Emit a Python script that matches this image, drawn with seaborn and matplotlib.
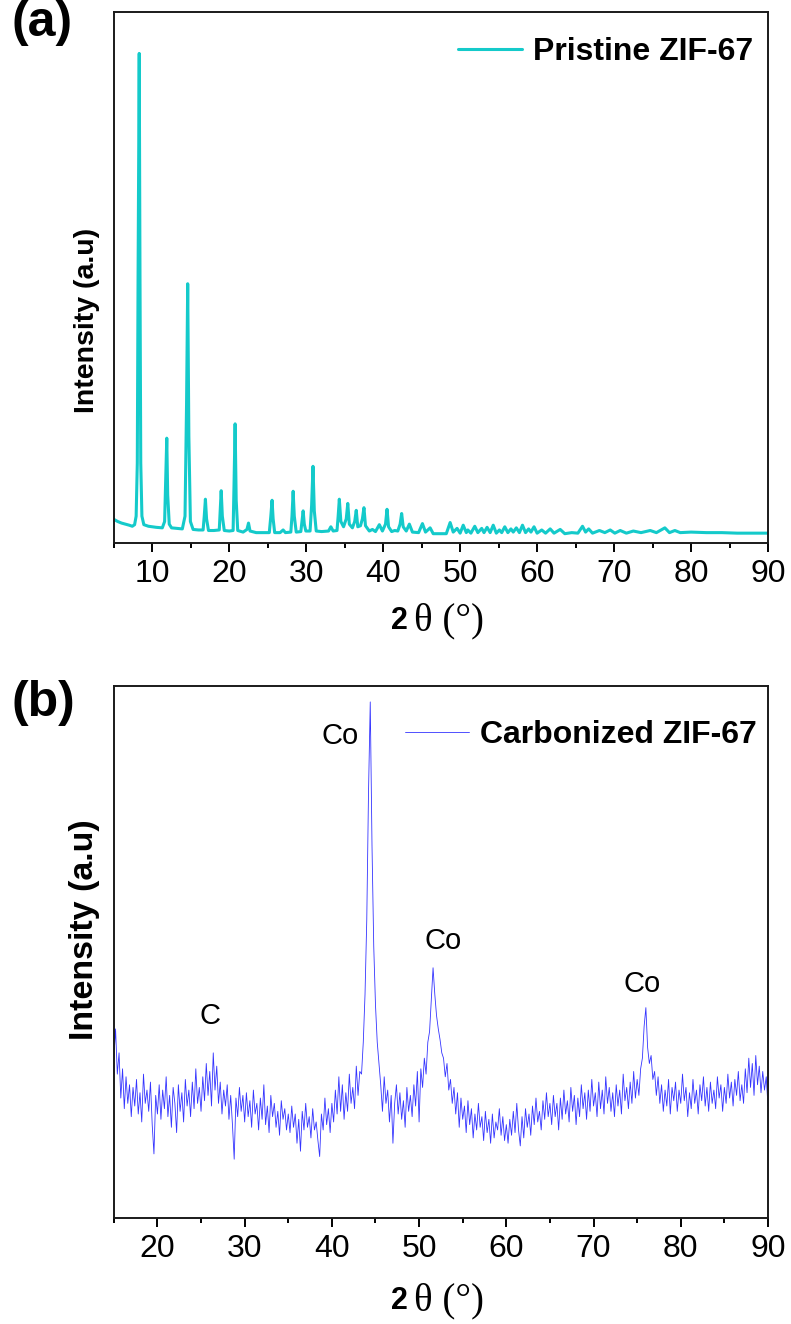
import numpy as np
import pandas as pd
import matplotlib
matplotlib.use("Agg")
import matplotlib.pyplot as plt
from matplotlib.ticker import MultipleLocator
import seaborn as sns

# ---------------- data: panel (a) pristine ZIF-67 (intensity as 0-1000 of axis height)
two_theta_a = [5.0, 5.5, 6.0, 6.5, 7.0, 7.4, 7.7, 7.9, 8.05, 8.15, 8.3, 8.4, 8.5, 8.65, 8.9, 9.5,
               10.5, 11.3, 11.6, 11.75, 11.88, 12.0, 12.2, 12.5, 13.2, 13.9, 14.25, 14.45, 14.6,
               14.75, 14.95, 15.3, 16.0, 16.6, 16.75, 16.9, 17.05, 17.3, 18.0, 18.7, 18.8, 18.95,
               19.1, 19.35, 20.0, 20.5, 20.62, 20.76, 20.9, 21.1, 21.8, 22.3, 22.5, 22.7, 23.5,
               25.2, 25.4, 25.56, 25.7, 25.9, 26.6, 27.0, 27.3, 28.0, 28.15, 28.3, 28.45, 28.7,
               29.3, 29.45, 29.6, 29.75, 29.95, 30.5, 30.7, 30.88, 31.05, 31.3, 32.0, 32.9, 33.2,
               33.5, 34.0, 34.15, 34.3, 34.5, 34.85, 35.2, 35.4, 35.6, 36.0, 36.3, 36.5, 36.7,
               37.05, 37.3, 37.5, 37.7, 38.2, 38.6, 39.0, 39.5, 39.9, 40.3, 40.5, 40.7, 41.1,
               41.5, 41.9, 42.2, 42.4, 42.6, 43.0, 43.4, 43.8, 44.6, 45.1, 45.5, 46.1, 46.5, 48.2,
               48.7, 49.1, 49.6, 50.0, 50.4, 50.8, 51.0, 51.4, 51.9, 52.3, 52.8, 53.1, 53.5, 53.9,
               54.3, 54.7, 55.1, 55.4, 55.8, 56.2, 56.6, 56.9, 57.3, 57.7, 58.1, 58.5, 58.9, 59.2,
               59.6, 60.0, 60.6, 61.1, 61.7, 62.2, 63.0, 63.6, 64.5, 65.3, 65.9, 66.3, 66.7, 67.2,
               68.1, 68.8, 69.5, 70.1, 70.8, 71.6, 72.5, 73.5, 74.7, 75.5, 76.6, 77.2, 77.9, 78.6,
               80.0, 82.0, 84.0, 86.0, 88.0, 90.0]
intensity_a = [44, 40, 37, 35, 33, 31, 34, 50, 150, 500, 922, 500, 150, 50, 34, 31,
               29, 28, 40, 120, 197, 90, 35, 28, 27, 26, 50, 260, 488,
               200, 40, 25, 24, 24, 50, 82, 45, 23, 23, 24, 55, 98,
               50, 23, 22, 23, 110, 224, 80, 23, 20, 25, 37, 22, 19,
               19, 50, 80, 45, 19, 19, 24, 19, 20, 50, 97, 50, 20,
               21, 40, 60, 35, 22, 22, 70, 144, 60, 22, 21, 22, 30,
               22, 23, 50, 82, 40, 30, 45, 74, 35, 28, 40, 61, 30,
               32, 45, 66, 32, 22, 25, 21, 34, 22, 35, 63, 30, 21,
               23, 22, 35, 55, 30, 22, 35, 20, 19, 36, 20, 28, 17, 17,
               38, 20, 27, 18, 33, 19, 24, 18, 31, 19, 27, 19, 29, 19,
               33, 18, 24, 19, 30, 19, 26, 20, 28, 19, 33, 19, 26, 20,
               30, 18, 24, 18, 26, 18, 25, 17, 19, 18, 31, 20, 26, 18,
               23, 19, 24, 18, 23, 18, 22, 19, 23, 19, 28, 19, 23, 19,
               20, 19, 19, 18, 18, 18]

# ---------------- data: panel (b) carbonized ZIF-67, sampled every 0.2 deg from 15 to 90
two_theta_b = np.round(np.arange(15.0, 90.0001, 0.2), 1)
intensity_b = (
    # 15.0 - 20.0
    [300, 355, 270, 310, 225, 280, 205, 265, 215, 250, 190, 245, 210, 260, 195, 235, 180, 270,
     215, 240, 200, 255, 175, 120, 230, 195]
    # 20.2 - 25.0
    + [250, 185, 240, 205, 265, 190, 230, 170, 245, 215, 160, 250, 200, 235, 180, 260, 210, 240,
       190, 255, 205, 280, 215, 245, 200]
    # 25.2 - 30.0
    + [265, 220, 290, 230, 275, 210, 310, 240, 285, 215, 255, 195, 240, 210, 250, 185, 230, 175,
       110, 225, 190, 245, 200, 230, 180]
    # 30.2 - 35.0
    + [235, 190, 220, 170, 240, 195, 215, 165, 225, 185, 250, 175, 210, 160, 230, 190, 215, 170,
       200, 155, 220, 185, 205, 165, 195]
    # 35.2 - 40.0
    + [160, 210, 170, 195, 140, 185, 125, 200, 165, 215, 170, 190, 150, 205, 165, 180, 145, 115,
       195, 165, 225, 175, 205, 160, 215]
    # 40.2 - 43.2
    + [180, 240, 195, 265, 200, 250, 185, 235, 200, 270, 215, 245, 205, 285, 230, 275]
    # 43.4 - 45.6  (Co peak)
    + [270, 330, 420, 560, 800, 970, 700, 510, 400, 330, 290, 250]
    # 45.8 - 50.0
    + [200, 265, 215, 240, 180, 230, 140, 215, 250, 195, 235, 185, 220, 170, 245, 200, 230, 190,
       250, 210, 275, 180]
    # 50.2 - 53.6  (Co peak)
    + [280, 245, 300, 270, 330, 350, 410, 470, 420, 380, 355, 335, 310, 300, 265, 290, 240, 260]
    # 53.8 - 60.0
    + [215, 245, 195, 235, 170, 225, 185, 210, 160, 220, 175, 205, 150, 195, 165, 215, 170, 190,
       145, 200, 160, 185, 140, 195, 150, 180, 165, 205, 155, 190, 145, 175]
    # 60.2 - 65.0
    + [140, 185, 155, 200, 160, 215, 165, 135, 190, 150, 205, 170, 195, 155, 210, 175, 225, 180,
       200, 165, 220, 185, 235, 190, 215]
    # 65.2 - 75.4
    + [175, 230, 190, 215, 165, 225, 185, 240, 195, 220, 180, 245, 200, 230, 175, 225, 190, 250,
       205, 235, 185, 240, 200, 260, 210, 235, 190, 255, 205, 240, 195, 265, 215, 245, 200, 235,
       190, 250, 210, 240, 195, 270, 220, 245, 205, 255, 215, 275, 225, 260, 230, 280]
    # 75.6 - 76.8  (Co peak)
    + [300, 360, 395, 320, 290, 305, 260]
    # 77.0 - 90.0
    + [275, 230, 265, 215, 250, 200, 240, 210, 260, 195, 245, 220, 255, 200, 240, 215, 270, 220,
       245, 190, 235, 205, 260, 215, 240, 195, 250, 220, 265, 210, 245, 200, 255, 215, 240, 205,
       265, 225, 250, 200, 245, 215, 270, 225, 255, 210, 260, 230, 275, 220, 250, 215, 280, 235,
       300, 245, 290, 230, 305, 250, 285, 235, 275, 240, 265, 210]
)
peak_labels_b = ["C", "Co", "Co", "Co"]
peak_label_x_b = [26.0, 40.9, 52.7, 75.6]
peak_label_y_b = [380, 905, 520, 440]

x_ticks_a = [10, 20, 30, 40, 50, 60, 70, 80, 90]
x_ticks_b = [20, 30, 40, 50, 60, 70, 80, 90]

df_a = pd.DataFrame({"two_theta": two_theta_a, "intensity": intensity_a})
df_b = pd.DataFrame({"two_theta": two_theta_b, "intensity": intensity_b})

# ---------------- style
sns.set_theme(style="white")
plt.rcParams["font.family"] = ["Liberation Sans", "DejaVu Sans"]
plt.rcParams["text.color"] = "black"
plt.rcParams["axes.labelcolor"] = "black"
plt.rcParams["xtick.color"] = "black"
plt.rcParams["xtick.labelcolor"] = "black"

fig = plt.figure(figsize=(7.91, 13.24), dpi=100)
ax_a = fig.add_axes([0.1439, 0.5901, 0.827, 0.4008])
ax_b = fig.add_axes([0.1439, 0.0803, 0.827, 0.4016])

sns.lineplot(data=df_a, x="two_theta", y="intensity", ax=ax_a, color="#14CACA",
             linewidth=2.2, estimator=None, sort=False, label="Pristine ZIF-67")
sns.lineplot(data=df_b, x="two_theta", y="intensity", ax=ax_b, color="#3434ff",
             linewidth=0.6, estimator=None, sort=False, label="Carbonized ZIF-67")

settings = [
    # ax, xmin, ticks, ylabel size, ylabel y, xlabel offset, legend x, legend y anchor
    (ax_a, 5, x_ticks_a, 20.5, 0.418, -0.147, 1.012, 0.995),
    (ax_b, 15, x_ticks_b, 24.5, 0.542, -0.157, 1.017, 0.978),
]
for ax, xlo, ticks, ylab_size, ylab_y, xlab_off, leg_x, leg_y in settings:
    ax.set_xlim(xlo, 90)
    ax.set_ylim(0, 1000)
    ax.set_xticks(ticks)
    ax.xaxis.set_minor_locator(MultipleLocator(5))
    ax.set_yticks([])
    ax.tick_params(axis="x", which="major", direction="out", length=6.5, width=1.4,
                   bottom=True, labelsize=23, pad=5, color="black", labelcolor="black")
    ax.tick_params(axis="x", which="minor", direction="out", length=3.5, width=1.4,
                   bottom=True, color="black")
    for s in ax.spines.values():
        s.set_color("#1a1a1a")
        s.set_linewidth(1.4)
    ax.set_xlabel("")
    ax.set_ylabel("Intensity (a.u)", fontsize=ylab_size, fontweight="bold", color="black")
    ax.yaxis.set_label_coords(-0.021, ylab_y)
    # x axis label: bold "2" + serif "θ (°)"
    ax.text(0.4495, xlab_off, "2", transform=ax.transAxes, ha="right", va="center",
            fontsize=22, fontweight="bold", family=["Liberation Sans", "DejaVu Sans"])
    ax.text(0.459, xlab_off, "θ (°)", transform=ax.transAxes, ha="left", va="center",
            fontsize=28, family=["Liberation Serif", "DejaVu Serif"])
    ax.legend(loc="upper right", bbox_to_anchor=(leg_x, leg_y), frameon=False,
              handlelength=2.0, handletextpad=0.35, borderaxespad=0.3,
              prop={"weight": "bold", "size": 23})

# panel letters
fig.text(0.014, 0.983, "(a)", fontsize=36, fontweight="bold", va="center", ha="left")
fig.text(0.014, 0.469, "(b)", fontsize=36, fontweight="bold", va="center", ha="left")

for lab, xx, yy in zip(peak_labels_b, peak_label_x_b, peak_label_y_b):
    ax_b.text(xx, yy, lab, fontsize=21, ha="center", va="center", color="black")

fig.savefig("out.png", dpi=100)
